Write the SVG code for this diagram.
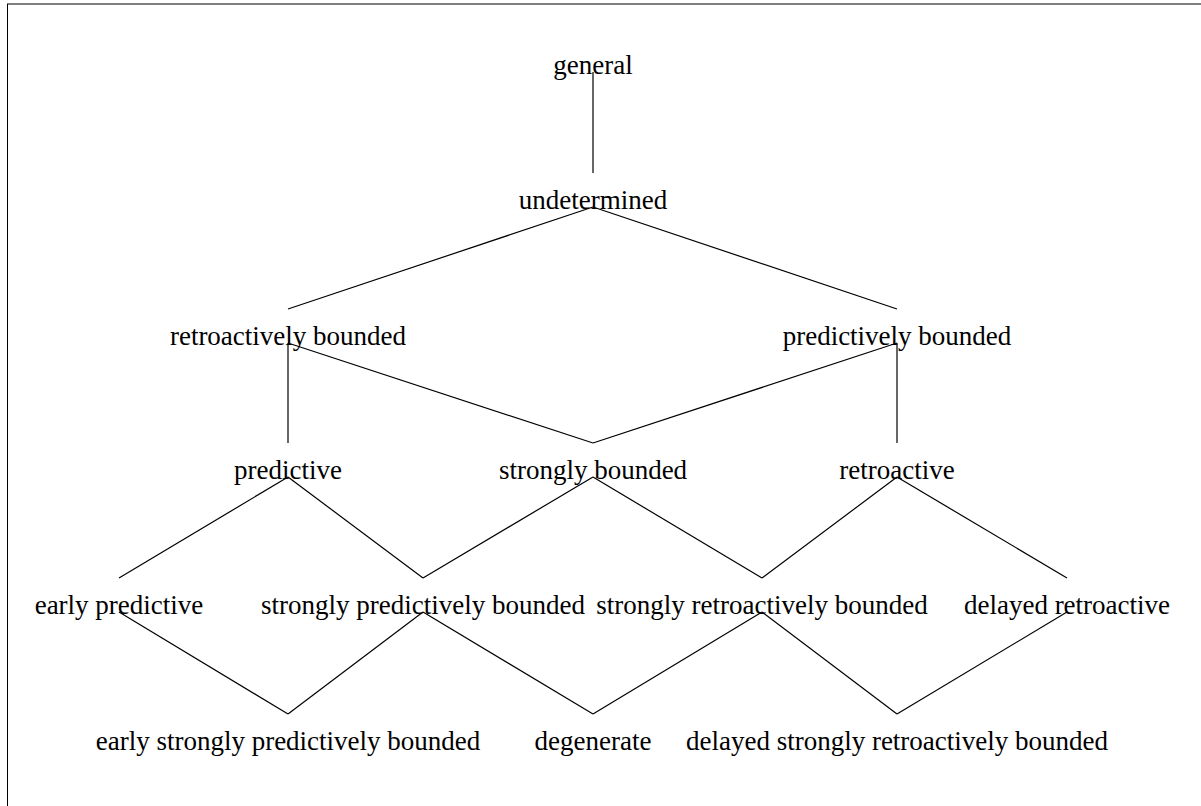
<svg xmlns="http://www.w3.org/2000/svg" width="1201" height="806" viewBox="0 0 1201 806">
<style>
text{font-family:"Liberation Serif","Times New Roman",serif;font-size:27px;fill:#000;text-anchor:middle}
.c line{stroke:#000;stroke-width:1.2;fill:none}
</style>
<rect x="0" y="0" width="1201" height="806" fill="#fff"/>
<rect x="7.5" y="4" width="1300" height="900" fill="none" stroke="#000" stroke-width="1"/>
<g class="c" id="connectors">
<line x1="593" y1="72" x2="593" y2="173"/>
<line x1="593" y1="207" x2="288" y2="309"/>
<line x1="593" y1="207" x2="897" y2="309"/>
<line x1="288" y1="343" x2="288" y2="443"/>
<line x1="288" y1="343" x2="593" y2="443"/>
<line x1="897" y1="343" x2="593" y2="443"/>
<line x1="897" y1="343" x2="897" y2="443"/>
<line x1="288" y1="477" x2="119" y2="578"/>
<line x1="288" y1="477" x2="423" y2="578"/>
<line x1="593" y1="477" x2="423" y2="578"/>
<line x1="593" y1="477" x2="762" y2="578"/>
<line x1="897" y1="477" x2="762" y2="578"/>
<line x1="897" y1="477" x2="1067" y2="578"/>
<line x1="119" y1="612" x2="288" y2="714"/>
<line x1="423" y1="612" x2="288" y2="714"/>
<line x1="423" y1="612" x2="593" y2="714"/>
<line x1="762" y1="612" x2="593" y2="714"/>
<line x1="762" y1="612" x2="897" y2="714"/>
<line x1="1067" y1="612" x2="897" y2="714"/>
</g>
<g id="general"><text x="593" y="73.5">general</text></g>
<g id="undetermined"><text x="593" y="208.5">undetermined</text></g>
<g id="retroactively_bounded"><text x="288" y="344.5">retroactively bounded</text></g>
<g id="predictively_bounded"><text x="897" y="344.5">predictively bounded</text></g>
<g id="predictive"><text x="288" y="478.5">predictive</text></g>
<g id="strongly_bounded"><text x="593" y="478.5">strongly bounded</text></g>
<g id="retroactive"><text x="897" y="478.5">retroactive</text></g>
<g id="early_predictive"><text x="119" y="613.5">early predictive</text></g>
<g id="strongly_predictively_bounded"><text x="423" y="613.5">strongly predictively bounded</text></g>
<g id="strongly_retroactively_bounded"><text x="762" y="613.5">strongly retroactively bounded</text></g>
<g id="delayed_retroactive"><text x="1067" y="613.5">delayed retroactive</text></g>
<g id="early_strongly_predictively_bounded"><text x="288" y="749.5">early strongly predictively bounded</text></g>
<g id="degenerate"><text x="593" y="749.5">degenerate</text></g>
<g id="delayed_strongly_retroactively_bounded"><text x="897" y="749.5">delayed strongly retroactively bounded</text></g>
</svg>
